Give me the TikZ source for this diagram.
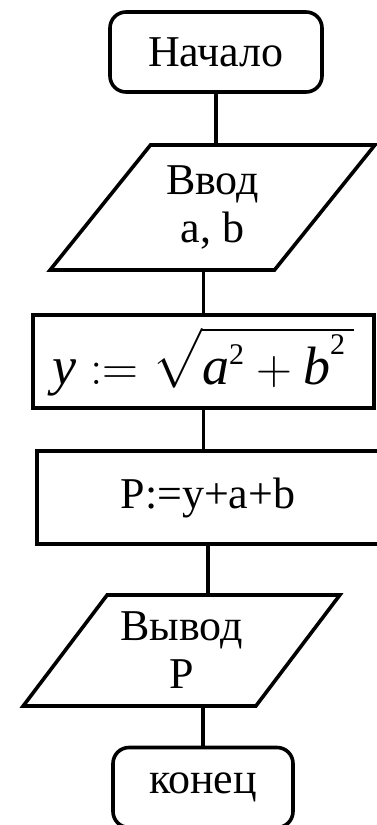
\documentclass[tikz,border=0pt]{standalone}
\usepackage{amsmath}
\usepackage{fontspec}
\setmainfont{Liberation Serif}
\usetikzlibrary{shapes.geometric}

\newcommand{\sqtwo}{\raisebox{3pt}{\fontsize{15}{15}\selectfont 2}}

\begin{document}
\begin{tikzpicture}[x=0.5pt, y=-0.5pt, line width=1.8pt,
  every node/.style={font=\fontsize{22}{24}\selectfont, inner sep=0pt},
  term/.style={draw, rounded corners=8pt, minimum width=106pt, minimum height=40pt},
  proc/.style={draw, rectangle, minimum height=46.5pt},
  io/.style={draw, trapezium, trapezium left angle=48, trapezium right angle=132,
    trapezium stretches=true, align=center}]
\useasboundingbox (0,0) rectangle (376,825);
\node[term] (start) at (216,52) {Начало};
\node[io, minimum width=162.5pt, minimum height=62.5pt] (in) at (212.5,207.5) {Ввод\\a, b};
\node[proc, minimum width=170.5pt, font=\fontsize{27}{30}\selectfont] (calc1) at (203.5,361.5)
  {$\textit{y} := \sqrt{\textit{a}^{\sqtwo} + \textit{b}^{\sqtwo}\,}$};
\node[proc, minimum width=171pt] (calc2) at (208,497.5) {P:=y+a+b};
\node[io, minimum width=158.5pt, minimum height=55.5pt] (out) at (181.5,650.5) {Вывод\\P};
\node[term, minimum width=90pt] (end) at (203,787.5) {конец};
\draw (start.south) -- (start.south |- in.north);
\draw (calc1.north |- in.south) -- (calc1.north);
\draw (calc1.south) -- (calc1.south |- calc2.north);
\draw (calc2.south) -- (calc2.south |- out.north);
\draw (end.north |- out.south) -- (end.north);
\end{tikzpicture}
\end{document}
